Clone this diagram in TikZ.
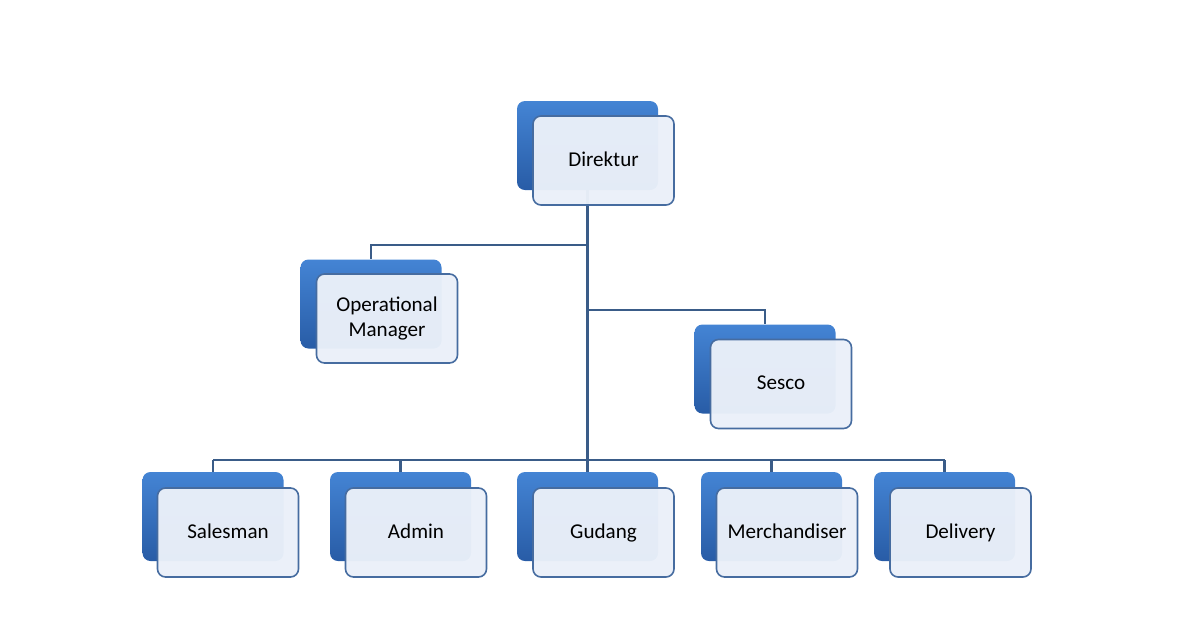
\documentclass[tikz,border=0pt]{standalone}
\usepackage{fontspec}
\setmainfont{Carlito}
\usetikzlibrary{positioning}

\definecolor{backtop}{RGB}{68,132,212}
\definecolor{backbot}{RGB}{40,92,166}
\definecolor{frontfill}{RGB}{234,240,249}
\definecolor{frontline}{RGB}{70,108,160}
\definecolor{linkcol}{RGB}{58,92,136}

\begin{document}
\begin{tikzpicture}[
    x=0.25mm, y=-0.25mm,
    back/.style={rectangle, rounded corners=2mm, minimum width=35.25mm, minimum height=22.25mm, inner sep=0pt, top color=backtop, bottom color=backbot, draw=none},
    front/.style={rectangle, rounded corners=2mm, minimum width=35.25mm, minimum height=22.25mm, inner sep=0pt, draw=frontline, line width=0.4mm, fill=frontfill, fill opacity=0.97, text opacity=1, align=center, execute at begin node=\vphantom{Dg}, font=\fontsize{15}{18}\selectfont},
    link/.style={draw=linkcol, line width=0.55mm}
]
\useasboundingbox (0,0) rectangle (1200,630);

% Back boxes
\node[back] (dirB) at (587.5,145.5) {};
\node[back] (opB) at (371,304) {};
\node[back] (seB) at (765,369) {};
\node[back] (salB) at (213,516.5) {};
\node[back] (admB) at (400.5,516.5) {};
\node[back] (gudB) at (587.5,516.5) {};
\node[back] (merB) at (771.5,516.5) {};
\node[back] (delB) at (944.5,516.5) {};

% Junctions
\coordinate (opJ) at (587.5,245);
\coordinate (seJ) at (587.5,310);
\coordinate (bus) at (587.5,460);

% Connectors
\draw[link] (dirB.south) -- (bus);
\draw[link] (opJ) -| (opB.north);
\draw[link] (seJ) -| (seB.north);
\draw[link] (salB.north |- bus) -- (delB.north |- bus);
\draw[link] (salB.north |- bus) -- (salB.north);
\draw[link] (admB.north |- bus) -- (admB.north);
\draw[link] (gudB.north |- bus) -- (gudB.north);
\draw[link] (merB.north |- bus) -- (merB.north);
\draw[link] (delB.north |- bus) -- (delB.north);

% Front boxes
\node[front] (dir) at (603.5,160.5) {Direktur};
\node[front] (op) at (387,318.5) {Operational\\Manager};
\node[front] (se) at (781,384) {Sesco};
\node[front] (sal) at (228,532.5) {Salesman};
\node[front] (adm) at (416,532.5) {Admin};
\node[front] (gud) at (603.5,532.5) {Gudang};
\node[front] (mer) at (787,532.5) {Merchandiser};
\node[front] (del) at (960.5,532.5) {Delivery};
\end{tikzpicture}
\end{document}
